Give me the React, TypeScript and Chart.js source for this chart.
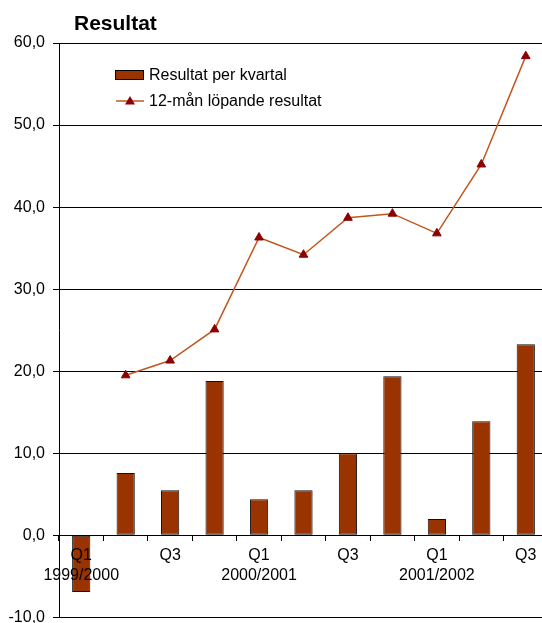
import React, { useEffect, useRef } from "react";
import { Chart, registerables } from "chart.js";

Chart.register(...registerables);

const categories: (string | string[])[] = [
  ["Q1", "1999/2000"], "", "Q3", "",
  ["Q1", "2000/2001"], "", "Q3", "",
  ["Q1", "2001/2002"], "", "Q3",
];
const quarterResult = [-6.9, 7.6, 5.5, 18.8, 4.4, 5.5, 10.0, 19.4, 2.0, 13.9, 23.3];
const rolling12 = [null, 19.5, 21.3, 25.1, 36.3, 34.2, 38.7, 39.2, 36.8, 45.2, 58.4];
const yTicks = { min: -10, max: 60, step: 10 };

const titleText = "Resultat";
const legendBar = "Resultat per kvartal";
const legendLine = "12-mån löpande resultat";

const FONT = "'Liberation Sans', Arial, sans-serif";
const BAR_COLOR = "#993300";
const LINE_COLOR = "#C0581E";
const MARKER_COLOR = "#8B0000";

const decorPlugin = {
  id: "decor",
  afterDraw(chart: any) {
    const ctx = chart.ctx;
    const a = chart.chartArea;
    ctx.save();
    // title
    ctx.fillStyle = "#000";
    ctx.font = `bold 21px ${FONT}`;
    ctx.textAlign = "left";
    ctx.textBaseline = "alphabetic";
    ctx.fillText(titleText, a.left + 15, 30);
    // legend
    const lx = a.left + 56;
    ctx.fillStyle = BAR_COLOR;
    ctx.fillRect(lx, 70, 29, 10);
    ctx.strokeStyle = "#000";
    ctx.lineWidth = 1;
    ctx.strokeRect(lx + 0.5, 70.5, 28, 9);
    ctx.font = `16px ${FONT}`;
    ctx.fillStyle = "#000";
    ctx.textBaseline = "middle";
    ctx.fillText(legendBar, lx + 34, 76);
    ctx.strokeStyle = LINE_COLOR;
    ctx.lineWidth = 1.5;
    ctx.beginPath();
    ctx.moveTo(lx + 1, 101);
    ctx.lineTo(lx + 29, 101);
    ctx.stroke();
    ctx.fillStyle = MARKER_COLOR;
    ctx.beginPath();
    ctx.moveTo(lx + 15, 96);
    ctx.lineTo(lx + 20, 104.5);
    ctx.lineTo(lx + 10, 104.5);
    ctx.closePath();
    ctx.fill();
    ctx.fillStyle = "#000";
    ctx.fillText(legendLine, lx + 34, 102);
    ctx.restore();
  },
};

export default function App() {
  const ref = useRef<HTMLCanvasElement>(null);
  useEffect(() => {
    if (!ref.current) return;
    const chart = new Chart(ref.current, {
      type: "bar",
      data: {
        labels: categories as any,
        datasets: [
          {
            type: "line",
            label: legendLine,
            data: rolling12 as any,
            borderColor: LINE_COLOR,
            borderWidth: 1.5,
            pointStyle: "triangle",
            pointRadius: 5,
            pointBackgroundColor: MARKER_COLOR,
            pointBorderColor: MARKER_COLOR,
            pointBorderWidth: 1,
            order: 0,
            tension: 0,
          } as any,
          {
            type: "bar",
            label: legendBar,
            data: quarterResult,
            backgroundColor: BAR_COLOR,
            borderColor: "#111",
            borderWidth: 1,
            borderSkipped: false,
            barPercentage: 0.41,
            categoryPercentage: 1,
            order: 1,
          } as any,
        ],
      },
      options: {
        animation: false,
        responsive: false,
        maintainAspectRatio: false,
        layout: { padding: { left: 0, right: 12, top: 43, bottom: 7 } },
        plugins: {
          legend: { display: false },
          tooltip: { enabled: false },
          title: { display: false },
        },
        scales: {
          x: {
            position: { y: 0 } as any,
            offset: true,
            grid: {
              display: true,
              drawOnChartArea: false,
              drawTicks: true,
              tickLength: 5,
              color: "#000",
              offset: true,
              z: 1,
            },
            border: { display: true, color: "#000", width: 1, z: 1 },
            ticks: {
              z: 1,
              autoSkip: false,
              maxRotation: 0,
              minRotation: 0,
              padding: 6,
              color: "#000",
              font: { family: FONT, size: 16, lineHeight: 1.2 },
            },
          },
          y: {
            min: yTicks.min,
            max: yTicks.max,
            afterFit(scale: any) {
              scale.width = 59;
            },
            ticks: {
              stepSize: yTicks.step,
              padding: 8,
              color: "#000",
              font: { family: FONT, size: 16 },
              callback: (v: any) => Number(v).toFixed(1).replace(".", ","),
            },
            grid: { color: "#000", lineWidth: 1, tickLength: 6 },
            border: { display: true, color: "#000", width: 1 },
          },
        },
      },
      plugins: [decorPlugin],
    });
    return () => chart.destroy();
  }, []);
  return (
    <div
      style={{
        position: "fixed",
        left: 0,
        top: 0,
        width: 542,
        height: 623,
        overflow: "hidden",
        background: "#fff",
      }}
    >
      <canvas ref={ref} width={560} height={635} style={{ width: 560, height: 635, display: "block" }} />
    </div>
  );
}
